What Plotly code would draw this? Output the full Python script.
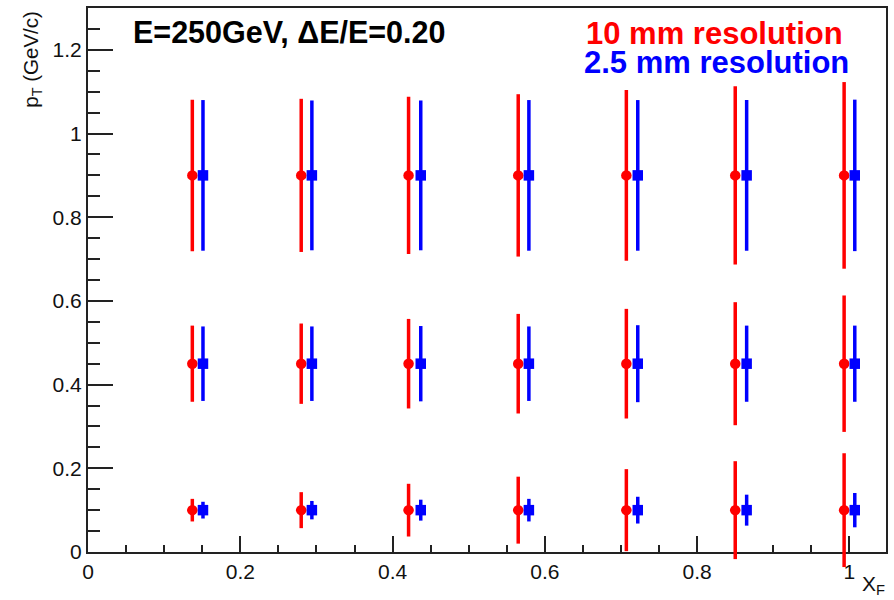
import plotly.graph_objects as go

# ---- data ----
xf_red = [0.137, 0.280, 0.421, 0.565, 0.707, 0.850, 0.993]
xf_blue = [0.151, 0.294, 0.437, 0.579, 0.722, 0.865, 1.007]
pt_rows = [0.1, 0.45, 0.9]

err_red_low = [0.027, 0.043, 0.063, 0.080, 0.098, 0.117, 0.136]
err_red_mid = [0.091, 0.096, 0.107, 0.119, 0.131, 0.147, 0.163]
err_red_high = [0.181, 0.183, 0.188, 0.194, 0.204, 0.213, 0.223]

err_blue_low = [0.020, 0.022, 0.025, 0.027, 0.032, 0.037, 0.041]
err_blue_mid = [0.089, 0.089, 0.090, 0.089, 0.092, 0.091, 0.091]
err_blue_high = [0.180, 0.179, 0.179, 0.180, 0.180, 0.180, 0.181]

title_text = "E=250GeV, ΔE/E=0.20"
label_red = "10 mm resolution"
label_blue = "2.5 mm resolution"

FONT = "Liberation Sans, Arial, Helvetica, sans-serif"

X_RANGE = [0, 1.048]
Y_RANGE = [0, 1.3]

# layout geometry (pixels)
W, H = 894, 600
M_L, M_R, M_T, M_B = 88, 6, 8, 30
FRAME_BOTTOM = 552  # pixel row of pT = 0


def flatten(xs, rows, errs):
    X, Y, E = [], [], []
    for row, err in zip(rows, errs):
        for x, e in zip(xs, err):
            X.append(x)
            Y.append(row)
            E.append(e)
    return X, Y, E


rx, ry, re_ = flatten(xf_red, pt_rows, [err_red_low, err_red_mid, err_red_high])
bx, by, be = flatten(xf_blue, pt_rows, [err_blue_low, err_blue_mid, err_blue_high])

# the data subplot is a bit taller than the frame so that long error bars
# may run past the lower frame line, as in the reference
plot_h = H - M_T - M_B
frame_dom0 = (H - M_B - FRAME_BOTTOM) / plot_h
px_per_unit = (FRAME_BOTTOM - M_T) / (Y_RANGE[1] - Y_RANGE[0])
y2_low = Y_RANGE[0] - (H - M_B - FRAME_BOTTOM) / px_per_unit

fig = go.Figure()
# empty trace to create the framed subplot
fig.add_trace(go.Scatter(x=[], y=[], xaxis="x", yaxis="y", showlegend=False))
fig.add_trace(go.Scatter(
    x=rx, y=ry, mode="markers", name=label_red, xaxis="x2", yaxis="y2",
    marker=dict(symbol="circle", size=10.5, color="#ff0000"),
    error_y=dict(type="data", array=re_, visible=True, color="#ff0000",
                 thickness=3.5, width=0),
    cliponaxis=False, showlegend=False,
))
fig.add_trace(go.Scatter(
    x=bx, y=by, mode="markers", name=label_blue, xaxis="x2", yaxis="y2",
    marker=dict(symbol="square", size=10.5, color="#0000ff"),
    error_y=dict(type="data", array=be, visible=True, color="#0000ff",
                 thickness=3.5, width=0),
    cliponaxis=False, showlegend=False,
))

axis_common = dict(
    showgrid=False, zeroline=False, showline=True, linecolor="#222",
    linewidth=2, mirror=True, ticks="inside", tickcolor="#222",
    tickwidth=2, tickfont=dict(family=FONT, size=21, color="#111"),
    dtick=0.2, tick0=0,
)

fig.update_layout(
    xaxis=dict(range=X_RANGE, domain=[0, 1], anchor="y", ticklen=16,
               minor=dict(dtick=0.05, ticks="inside", ticklen=7,
                          tickwidth=1.5, tickcolor="#222"),
               **axis_common),
    yaxis=dict(range=Y_RANGE, domain=[frame_dom0, 1], anchor="x", ticklen=25,
               minor=dict(dtick=0.05, ticks="inside", ticklen=12,
                          tickwidth=1.5, tickcolor="#222"),
               **axis_common),
    xaxis2=dict(range=X_RANGE, domain=[0, 1], anchor="y2", visible=False,
                showgrid=False, zeroline=False),
    yaxis2=dict(range=[y2_low, Y_RANGE[1]], domain=[0, 1], anchor="x2",
                visible=False, showgrid=False, zeroline=False),
)


# paper coordinates helpers
def px_x(p):
    return (p - M_L) / (W - M_L - M_R)


def px_y(p):
    return (H - M_B - p) / plot_h


fig.add_annotation(text=title_text, xref="paper", yref="paper",
                   x=px_x(131), y=px_y(32), xanchor="left", yanchor="middle",
                   showarrow=False,
                   font=dict(family=FONT, size=30.5, color="black", weight="bold"))
fig.add_annotation(text=label_red, xref="paper", yref="paper",
                   x=px_x(585), y=px_y(33), xanchor="left", yanchor="middle",
                   showarrow=False,
                   font=dict(family=FONT, size=31, color="#ff0000", weight="bold"))
fig.add_annotation(text=label_blue, xref="paper", yref="paper",
                   x=px_x(583), y=px_y(63), xanchor="left", yanchor="middle",
                   showarrow=False,
                   font=dict(family=FONT, size=31, color="#0000ff", weight="bold"))
fig.add_annotation(text="p<sub>T</sub> (GeV/c)", xref="paper", yref="paper",
                   x=px_x(31), y=px_y(9), xanchor="center", yanchor="top",
                   textangle=-90, showarrow=False,
                   font=dict(family=FONT, size=20.5, color="#111"))
fig.add_annotation(text="X<sub>F</sub>", xref="paper", yref="paper",
                   x=px_x(889), y=px_y(585), xanchor="right", yanchor="middle",
                   showarrow=False,
                   font=dict(family=FONT, size=21, color="#111"))

fig.update_layout(
    width=W, height=H,
    margin=dict(l=M_L, r=M_R, t=M_T, b=M_B),
    plot_bgcolor="rgba(0,0,0,0)", paper_bgcolor="white",
    font=dict(family=FONT),
)

fig.write_html("out.html")
